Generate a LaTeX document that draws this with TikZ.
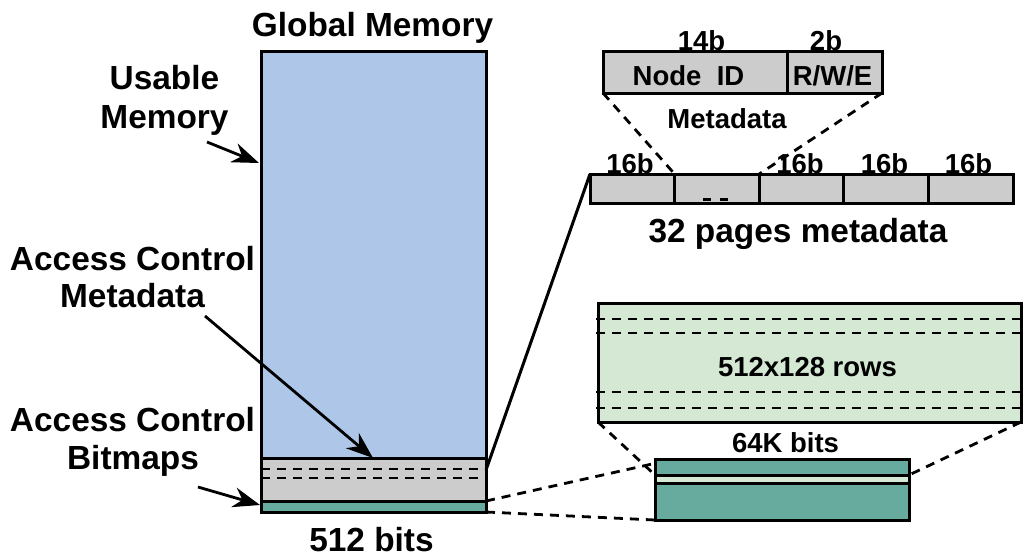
\documentclass[tikz,border=0pt]{standalone}
\usepackage{fontspec}
\setmainfont{Liberation Sans}
\usetikzlibrary{arrows.meta,calc}
\definecolor{memblue}{HTML}{AEC6E8}
\definecolor{metagray}{HTML}{CCCCCC}
\definecolor{bmteal}{HTML}{67AB9E}
\definecolor{rowgreen}{HTML}{D5E8D4}
\begin{document}
\begin{tikzpicture}[x=1pt,y=-1pt,line width=3pt,
  big/.style={font=\fontsize{33.4}{40}\selectfont\bfseries,inner sep=0pt,anchor=base},
  small/.style={font=\fontsize{27.5}{33}\selectfont\bfseries,inner sep=0pt,anchor=base},
  box/.style={draw,inner sep=0pt,outer sep=0pt,anchor=north west},
  ptr/.style={-{Stealth[length=27pt,width=20pt]},line width=2.8pt},
  dsh/.style={dash pattern=on 9pt off 7pt,line width=2.8pt}]
\useasboundingbox (0,0) rectangle (1024,558);

% ---- global memory column
\node[box,fill=memblue,minimum width=225pt,minimum height=407pt] (usable) at (261,51) {};
\node[box,fill=metagray,minimum width=225pt,minimum height=43pt] (acmeta) at (261,458) {};
\node[box,fill=bmteal,minimum width=225pt,minimum height=11pt] (acbit) at (261,501) {};
\draw[dsh] (261,469) -- (486,469);
\draw[dsh] (261,478) -- (486,478);

\node[big] (tglobal) at (372.5,36) {Global Memory};
\node[big] (tbits) at (371.5,551) {512 bits};

\node[big] (tusable1) at (164.5,89) {Usable};
\node[big] (tusable2) at (164.5,128) {Memory};
\node[big] (tacm1) at (132.5,270) {Access Control};
\node[big] (tacm2) at (132.5,307) {Metadata};
\node[big] (tacb1) at (132.5,431) {Access Control};
\node[big] (tacb2) at (133,469) {Bitmaps};

\coordinate (pu) at (207,142);
\coordinate (pm) at (205,316);
\coordinate (pb) at (198,487);
\draw[ptr] (pu) -- (259,163);
\draw[ptr] (pm) -- (373,458);
\draw[ptr] (pb) -- (260,505);

% ---- metadata entry
\node[box,fill=metagray,minimum width=184pt,minimum height=42pt] (mdid) at (603,51) {};
\node[box,fill=metagray,minimum width=95pt,minimum height=42pt] (mdrwe) at (787,51) {};
\node[small] (t14) at (701.5,50) {14b};
\node[small] (t2) at (826,50) {2b};
\node[small] (tnode) at (688.5,85) {Node\ \ ID};
\node[small] (trwe) at (832.5,85) {R/W/E};
\node[small] (tmeta) at (727,128) {Metadata};

% ---- 32 pages metadata bar
\foreach \i in {0,...,4}{
  \node[box,fill=metagray,minimum width=84.6pt,minimum height=29pt] (c\i) at (590+84.6*\i,174) {};
}
\node[small] (l0) at (630,173) {16b};
\node[small] (l2) at (800,173) {16b};
\node[small] (l3) at (884.5,173) {16b};
\node[small] (l4) at (968.5,173) {16b};
\draw[line width=3.5pt] (703,199.5) -- (711,199.5);
\draw[line width=3.5pt] (720,199.5) -- (728,199.5);
\node[big] (tpages) at (798,242) {32 pages metadata};

\draw[dsh] (mdid.south west) -- (c1.north west);
\draw[dsh] (mdrwe.south east) -- (c2.north west);
\coordinate (gm) at (486,470);
\draw (gm) -- (c0.north west);

% ---- bitmap rows
\node[box,fill=rowgreen,minimum width=423pt,minimum height=119pt] (rows) at (598,303) {};
\foreach \yy in {319,333,392,408}{
  \draw[dsh] (596,\yy) -- (1021,\yy);
}
\node[small] (trows) at (807.5,376) {512x128 rows};
\node[small] (t64) at (785.5,452) {64K bits};

\node[box,fill=bmteal,minimum width=254pt,minimum height=61pt] (bm) at (655,459) {};
\node[box,fill=rowgreen,minimum width=254pt,minimum height=8pt] (stripe) at (655,475) {};

\draw[dsh] (rows.south west) -- (stripe.north west);
\draw[dsh] (rows.south east) -- (stripe.north east);
\coordinate (bmin) at (652,464);
\draw[dsh] (acbit.north east) -- (bmin);
\draw[dsh] (acbit.south east) -- (bm.south west);
\end{tikzpicture}
\end{document}
